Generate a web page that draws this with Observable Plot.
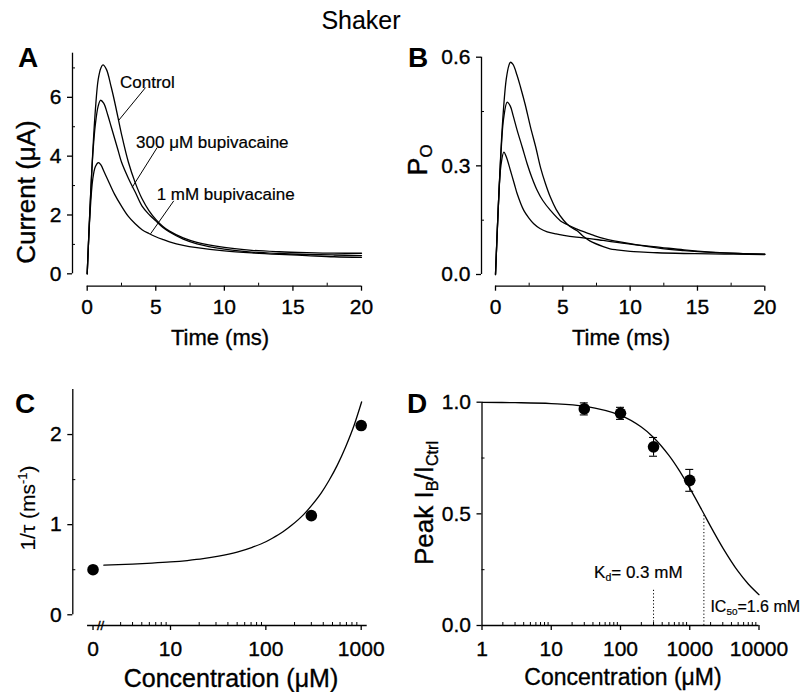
<!DOCTYPE html>
<html>
<head>
<meta charset="utf-8">
<script src="https://cdn.jsdelivr.net/npm/d3@7"></script>
<script src="https://cdn.jsdelivr.net/npm/@observablehq/plot@0.6"></script>
<style>
  html, body { margin: 0; padding: 0; background: #fff; }
  #wrap { position: relative; width: 805px; height: 692px; overflow: hidden;
          font-family: "Liberation Sans", Arial, Helvetica, sans-serif; color: #000; }
  #wrap svg { position: absolute; left: 0; top: 0; }
  #wrap svg text { stroke: #000; stroke-width: 0.35px; }
  .lbl { position: absolute; white-space: nowrap; line-height: 1; -webkit-text-stroke: 0.35px #000; }
  .lbl sub { font-size: 0.62em; vertical-align: -0.3em; line-height: 0; }
  .lbl sup { font-size: 0.62em; vertical-align: 0.55em; line-height: 0; }
</style>
</head>
<body>
<div id="wrap"></div>
<script>
// ---------------- DATA ----------------
const titleText = "Shaker";
const seriesNames = ["Control", "300 μM bupivacaine", "1 mM bupivacaine"];

// Panel A: current traces (μA) vs time (ms)
const tA_control = [0,0.2,0.4,0.6,0.8,1.0,1.15,1.4,1.75,2.0,2.25,2.5,3.0,3.5,4.0,4.5,5.0,5.5,6,7,8,10,12,14,16,18,20];
const iA_control = [0,2.2,4.1,5.6,6.6,7.0,7.1,6.95,6.35,5.85,5.3,4.75,3.8,3.1,2.55,2.15,1.85,1.62,1.45,1.22,1.07,0.9,0.8,0.75,0.72,0.7,0.7];
const tA_300 = [0,0.2,0.4,0.6,0.8,0.97,1.2,1.5,1.75,2.0,2.25,2.5,3.0,3.5,4.0,4.5,5.0,5.5,6,7,8,10,12,14,16,18,20];
const iA_300 = [0,2.2,4.0,5.1,5.7,5.9,5.8,5.4,5.0,4.6,4.2,3.8,3.25,2.78,2.3,2.02,1.8,1.58,1.42,1.18,1.02,0.84,0.74,0.69,0.66,0.64,0.62];
const tA_1mM = [0,0.2,0.4,0.6,0.82,1.0,1.25,1.5,2.0,2.5,3.0,3.5,4.0,4.5,5.0,5.5,6,7,8,10,12,14,16,18,20];
const iA_1mM = [0,2.0,3.2,3.65,3.78,3.7,3.45,3.2,2.7,2.3,1.95,1.7,1.5,1.37,1.26,1.17,1.09,0.97,0.89,0.78,0.71,0.66,0.62,0.58,0.56];
// labels and leader lines for panel A (data units)
const labelA_x = [2.43, 3.6, 5.1];
const labelA_y = [6.5, 4.46, 2.71];
const leaderA_x1 = [4.25, 5.1, 6.31];
const leaderA_y1 = [6.33, 4.29, 2.48];
const leaderA_x2 = [2.30, 3.28, 4.62];
const leaderA_y2 = [5.22, 2.94, 1.36];

// Panel B: open probability vs time (ms)
const tB_control = [0,0.2,0.4,0.6,0.8,1.0,1.1,1.3,1.6,1.86,2.2,2.6,3.0,3.34,3.7,4.08,4.5,5.07,5.5,6.06,6.56,7.0,8.0,8.5,9.0,10,11,12,14,16,18,20];
const pB_control = [0,0.18,0.34,0.46,0.54,0.578,0.586,0.58,0.55,0.517,0.47,0.407,0.35,0.296,0.252,0.213,0.18,0.149,0.133,0.121,0.104,0.093,0.077,0.071,0.068,0.064,0.062,0.06,0.058,0.057,0.056,0.055];
const tB_300 = [0,0.2,0.4,0.6,0.87,1.1,1.3,1.61,2.0,2.35,2.7,3.1,3.5,4.08,4.83,5.32,6.0,7.0,7.3,8.0,10,12.25,14,16,18,20];
const pB_300 = [0,0.18,0.33,0.43,0.476,0.465,0.44,0.398,0.35,0.306,0.268,0.232,0.205,0.177,0.148,0.138,0.126,0.112,0.108,0.1,0.085,0.072,0.066,0.061,0.058,0.056];
const tB_1mM = [0,0.2,0.4,0.62,0.8,1.11,1.4,1.61,2.1,2.5,2.84,3.3,3.84,4.5,5.07,6.0,7.0,8.0,10,12.25,14,16,18,20];
const pB_1mM = [0,0.18,0.3,0.338,0.325,0.287,0.25,0.223,0.177,0.155,0.14,0.127,0.118,0.112,0.108,0.103,0.099,0.094,0.084,0.075,0.068,0.062,0.058,0.056];

// Panel C: 1/tau vs concentration
const concC = [0, 300, 1000];
const rateC = [0.5, 1.1, 2.1];
const fitC_conc = [2, 4, 6.4, 10, 15, 22, 32, 50, 72, 100, 117, 150, 189, 250, 307, 380, 458, 560, 686, 850, 1010];
const fitC_rate = [0.55, 0.562, 0.573, 0.586, 0.602, 0.622, 0.65, 0.696, 0.749, 0.81, 0.849, 0.918, 0.998, 1.114, 1.222, 1.35, 1.487, 1.658, 1.863, 2.115, 2.362];

// Panel D: peak IB/ICtrl vs concentration
const concD = [30, 100, 300, 1000];
const peakD = [0.97, 0.95, 0.80, 0.65];
const errD = [0.027, 0.027, 0.042, 0.049];
const fitD_conc = [1,3,10,30,100,200,300,500,700,1000,1500,2000,3000,5000,7000,10000];
const fitD_val = [0.999,0.998,0.994,0.982,0.941,0.889,0.842,0.762,0.696,0.615,0.516,0.444,0.348,0.242,0.186,0.138];
const markersD_conc = [300, 1600];     // Kd, IC50
const markersD_top = [0.164, 0.5];

// tick values
const ticksAB_x = [0, 5, 10, 15, 20];
const minorAB_x = [2.5, 7.5, 12.5, 17.5];
const ticksA_y = [0, 2, 4, 6];
const minorA_y = [1, 3, 5, 7];
const ticksB_y = [0, 0.3, 0.6];
const minorB_y = [0.15, 0.45];
const ticksC_y = [0, 1, 2];
const minorC_y = [0.5, 1.5];
const ticksC_x = [0, 10, 100, 1000];
const minorC_x = [3,4,5,6,7,8,9,20,30,40,50,60,70,80,90,200,300,400,500,600,700,800,900];
const ticksD_x = [1, 10, 100, 1000, 10000];
const minorD_x = [2,3,4,5,6,7,8,9,20,30,40,50,60,70,80,90,200,300,400,500,600,700,800,900,2000,3000,4000,5000,6000,7000,8000,9000];
const ticksD_y = [0, 0.5, 1];
const minorD_y = [0.25, 0.75];

// ---------------- LAYOUT ----------------
const W = 805, H = 692;
const FONT = '"Liberation Sans", Arial, Helvetica, sans-serif';
const TICK_FS = 21;
const wrap = document.getElementById("wrap");
const baseStyle = {background: "transparent", overflow: "visible", fontFamily: FONT, fontSize: TICK_FS + "px", color: "#000"};
const SW = 1.3;

function frame(b) {
  return {width: W, height: H, marginLeft: b.left, marginRight: W - b.right, marginTop: b.top, marginBottom: H - b.bottom};
}
function addText(html, x, y, o = {}) {
  const d = document.createElement("div");
  d.className = "lbl";
  d.innerHTML = html;
  d.style.left = x + "px";
  d.style.top = y + "px";
  d.style.fontSize = (o.size || 20) + "px";
  if (o.weight) d.style.fontWeight = o.weight;
  if (o.stroke !== undefined) d.style.webkitTextStroke = o.stroke + "px #000";
  const ax = o.anchor === "start" ? "0" : o.anchor === "end" ? "-100%" : "-50%";
  d.style.transform = `translate(${ax},-50%)` + (o.rotate ? ` rotate(${o.rotate}deg)` : "");
  wrap.appendChild(d);
}
function scaleFn(plot, name, fallback) {
  const s = plot.scale(name);
  if (s && typeof s.apply === "function") return v => s.apply(v);
  return fallback;
}
function rows(names, ts, vs) {
  const out = [];
  names.forEach((n, k) => ts[k].forEach((t, i) => out.push({s: n, t, v: vs[k][i]})));
  return out;
}

// ---------- Panel A ----------
const boxA = {left: 72, right: 361, top: 52.7, bottom: 285.7};
const xDomA = [-1.072, 20], yDomA = [-0.421, 7.5];
const rowsA = rows(seriesNames, [tA_control, tA_300, tA_1mM], [iA_control, iA_300, iA_1mM]);
const leadersA = leaderA_x1.map((x1, i) => ({x1, y1: leaderA_y1[i], x2: leaderA_x2[i], y2: leaderA_y2[i]}));
const plotA = Plot.plot({
  ...frame(boxA), style: baseStyle,
  x: {domain: xDomA}, y: {domain: yDomA},
  marks: [
    Plot.ruleY([yDomA[0]], {x1: ticksAB_x[0], x2: ticksAB_x[ticksAB_x.length - 1], strokeWidth: SW}),
    Plot.ruleX([xDomA[0]], {y1: 0, y2: yDomA[1], strokeWidth: SW}),
    Plot.axisX({ticks: ticksAB_x, tickSize: 5, tickPadding: 8, tickFormat: d => String(d), label: null, fontSize: TICK_FS, strokeWidth: SW}),
    Plot.tickX(minorAB_x, {x: d => d, insetTop: (boxA.bottom - boxA.top) - 3, strokeWidth: 1}),
    Plot.axisY({ticks: ticksA_y, tickSize: 5, tickPadding: 6, tickFormat: d => String(d), label: null, fontSize: TICK_FS, strokeWidth: SW}),
    Plot.tickY(minorA_y, {y: d => d, insetRight: (boxA.right - boxA.left) - 3, strokeWidth: 1}),
    Plot.line(rowsA, {x: "t", y: "v", z: "s", curve: "catmull-rom", strokeWidth: SW}),
    Plot.link(leadersA, {x1: "x1", y1: "y1", x2: "x2", y2: "y2", strokeWidth: 1})
  ]
});
wrap.appendChild(plotA);
const axA = scaleFn(plotA, "x", v => boxA.left + (v - xDomA[0]) / (xDomA[1] - xDomA[0]) * (boxA.right - boxA.left));
const ayA = scaleFn(plotA, "y", v => boxA.bottom - (v - yDomA[0]) / (yDomA[1] - yDomA[0]) * (boxA.bottom - boxA.top));
seriesNames.forEach((n, i) => addText(n, axA(labelA_x[i]), ayA(labelA_y[i]), {size: 17, anchor: "start", stroke: 0.2}));

// ---------- Panel B ----------
const boxB = {left: 481, right: 764.3, top: 56.7, bottom: 285.7};
const xDomB = [-1.04, 20], yDomB = [-0.0323, 0.6];
const rowsB = rows(seriesNames, [tB_control, tB_300, tB_1mM], [pB_control, pB_300, pB_1mM]);
const plotB = Plot.plot({
  ...frame(boxB), style: baseStyle,
  x: {domain: xDomB}, y: {domain: yDomB},
  marks: [
    Plot.ruleY([yDomB[0]], {x1: ticksAB_x[0], x2: ticksAB_x[ticksAB_x.length - 1], strokeWidth: SW}),
    Plot.ruleX([xDomB[0]], {y1: 0, y2: yDomB[1], strokeWidth: SW}),
    Plot.axisX({ticks: ticksAB_x, tickSize: 5, tickPadding: 8, tickFormat: d => String(d), label: null, fontSize: TICK_FS, strokeWidth: SW}),
    Plot.tickX(minorAB_x, {x: d => d, insetTop: (boxB.bottom - boxB.top) - 3, strokeWidth: 1}),
    Plot.axisY({ticks: ticksB_y, tickSize: 5, tickPadding: 6, tickFormat: d3.format(".1f"), label: null, fontSize: TICK_FS, strokeWidth: SW}),
    Plot.tickY(minorB_y, {y: d => d, insetRight: (boxB.right - boxB.left) - 3, strokeWidth: 1}),
    Plot.line(rowsB, {x: "t", y: "v", z: "s", curve: "catmull-rom", strokeWidth: SW})
  ]
});
wrap.appendChild(plotB);

// ---------- Panel C ----------
const boxC = {left: 72.3, right: 366.7, top: 389, bottom: 625};
const xDomC = [0.945, 1156], yDomC = [-0.119, 2.5];
const C_ZERO_AT = 1.54;   // position used for the "0" concentration, left of the axis break
const C_AXIS_START = 1.35;
const C_BREAK_AT = 1.85;
const xC = c => c === 0 ? C_ZERO_AT : c;
const ptsC = concC.map((c, i) => ({c: xC(c), r: rateC[i]}));
const fitC = fitC_conc.map((c, i) => ({c, r: fitC_rate[i]}));
const plotC = Plot.plot({
  ...frame(boxC), style: baseStyle,
  x: {type: "log", domain: xDomC}, y: {domain: yDomC},
  marks: [
    Plot.ruleY([yDomC[0]], {x1: C_AXIS_START, x2: xDomC[1], strokeWidth: SW}),
    Plot.ruleX([xDomC[0]], {y1: 0, y2: yDomC[1], strokeWidth: SW}),
    Plot.axisX({ticks: ticksC_x.map(xC), tickSize: 5, tickPadding: 11, tickFormat: d => d === C_ZERO_AT ? "0" : String(d), label: null, fontSize: TICK_FS, strokeWidth: SW}),
    Plot.tickX(minorC_x, {x: d => d, insetTop: (boxC.bottom - boxC.top) - 3, strokeWidth: 1}),
    Plot.text([C_BREAK_AT], {x: d => d, y: yDomC[0], text: () => "//", fontSize: 13}),
    Plot.axisY({ticks: ticksC_y, tickSize: 5, tickPadding: 6, tickFormat: d => String(d), label: null, fontSize: TICK_FS, strokeWidth: SW}),
    Plot.tickY(minorC_y, {y: d => d, insetRight: (boxC.right - boxC.left) - 3, strokeWidth: 1}),
    Plot.line(fitC, {x: "c", y: "r", curve: "monotone-x", strokeWidth: SW}),
    Plot.dot(ptsC, {x: "c", y: "r", r: 5.8, fill: "black", stroke: "none"})
  ]
});
wrap.appendChild(plotC);

// ---------- Panel D ----------
const boxD = {left: 481.5, right: 758.5, top: 401.7, bottom: 625};
const xDomD = [1, 10000], yDomD = [0, 1];
const CAP = 1.142;
const ptsD = concD.map((c, i) => ({c, v: peakD[i], lo: peakD[i] - errD[i], hi: peakD[i] + errD[i]}));
const fitD = fitD_conc.map((c, i) => ({c, v: fitD_val[i]}));
const markD = markersD_conc.map((c, i) => ({c, top: markersD_top[i]}));
const plotD = Plot.plot({
  ...frame(boxD), style: baseStyle,
  x: {type: "log", domain: xDomD}, y: {domain: yDomD},
  marks: [
    Plot.ruleY([0], {x1: xDomD[0], x2: xDomD[1], strokeWidth: SW}),
    Plot.ruleX([xDomD[0]], {y1: 0, y2: 1, strokeWidth: SW}),
    Plot.axisX({ticks: ticksD_x, tickSize: 5, tickPadding: 11, tickFormat: d => String(d), label: null, fontSize: TICK_FS, strokeWidth: SW}),
    Plot.tickX(minorD_x, {x: d => d, insetTop: (boxD.bottom - boxD.top) - 3, strokeWidth: 1}),
    Plot.axisY({ticks: ticksD_y, tickSize: 5, tickPadding: 6, tickFormat: d3.format(".1f"), label: null, fontSize: TICK_FS, strokeWidth: SW}),
    Plot.tickY(minorD_y, {y: d => d, insetRight: (boxD.right - boxD.left) - 3, strokeWidth: 1}),
    Plot.ruleX(markD, {x: "c", y1: 0, y2: "top", strokeWidth: 1, strokeDasharray: "1.2,2.2"}),
    Plot.line(fitD, {x: "c", y: "v", curve: "catmull-rom", strokeWidth: SW}),
    Plot.ruleX(ptsD, {x: "c", y1: "lo", y2: "hi", strokeWidth: 1.1}),
    Plot.ruleY(ptsD, {y: "lo", x1: d => d.c / CAP, x2: d => d.c * CAP, strokeWidth: 1.1}),
    Plot.ruleY(ptsD, {y: "hi", x1: d => d.c / CAP, x2: d => d.c * CAP, strokeWidth: 1.1}),
    Plot.dot(ptsD, {x: "c", y: "v", r: 5.8, fill: "black", stroke: "none"})
  ]
});
wrap.appendChild(plotD);
const axD = scaleFn(plotD, "x", v => boxD.left + Math.log10(v) / 4 * (boxD.right - boxD.left));

// ---------- Text ----------
addText(titleText, 361, 20, {size: 25, stroke: 0.1});
addText("A", 28, 58, {size: 28, weight: "bold", stroke: 0});
addText("B", 418, 58, {size: 28, weight: "bold", stroke: 0});
addText("C", 25, 404, {size: 28, weight: "bold", stroke: 0});
addText("D", 417, 404, {size: 28, weight: "bold", stroke: 0});

addText("Current (μA)", 26, 192, {size: 26, rotate: -90});
addText("Time (ms)", 220, 338, {size: 22});
addText("P<sub>O</sub>", 418, 160, {size: 27, rotate: -90});
addText("Time (ms)", 621, 338, {size: 22});

addText("1/τ (ms<sup>-1</sup>)", 27, 508, {size: 21, rotate: -90, stroke: 0.15});
addText("Concentration (μM)", 231, 678, {size: 25});
addText("Peak I<sub>B</sub>/I<sub>Ctrl</sub>", 424, 503, {size: 26, rotate: -90});
addText("Concentration (μM)", 623, 677, {size: 23});

addText("K<sub>d</sub>= 0.3 mM", axD(300) - 59, 572, {size: 17, anchor: "start", stroke: 0.2});
addText("IC<sub>50</sub>=1.6 mM", axD(1600) + 7, 607, {size: 16, anchor: "start", stroke: 0.2});
</script>
</body>
</html>
